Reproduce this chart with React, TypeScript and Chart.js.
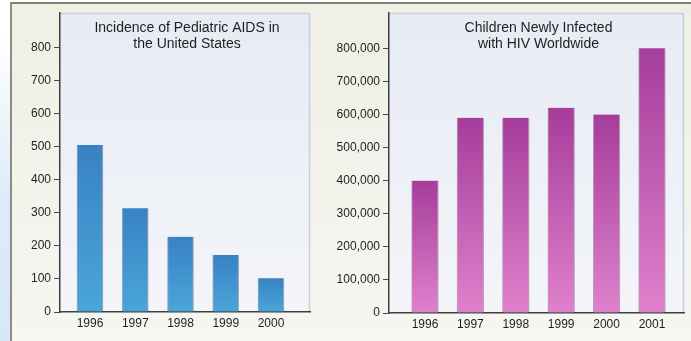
import React, { useEffect, useRef } from 'react';
import { Chart, registerables } from 'chart.js';

Chart.register(...registerables);
Chart.defaults.font.family = '"Liberation Sans", Arial, Helvetica, sans-serif';

// ---- Data: Incidence of Pediatric AIDS in the United States ----
const usYears = [1996, 1997, 1998, 1999, 2000];
const usCases = [506, 314, 228, 173, 102];
const usTicks = [0, 100, 200, 300, 400, 500, 600, 700, 800];
const usTitle = ['Incidence of Pediatric AIDS in', 'the United States'];

// ---- Data: Children Newly Infected with HIV Worldwide ----
const worldYears = [1996, 1997, 1998, 1999, 2000, 2001];
const worldInfected = [400000, 590000, 590000, 620000, 600000, 800000];
const worldTicks = [0, 100000, 200000, 300000, 400000, 500000, 600000, 700000, 800000];
const worldTitle = ['Children Newly Infected', 'with HIV Worldwide'];

type Cfg = {
  years: number[];
  values: number[];
  ticks: number[];
  title: string[];
  xMin: number;
  xMax: number;
  yMax: number;
  yWidth: number;
  xHeight: number;
  padRight: number;
  barThickness: number;
  topColor: string;
  bottomColor: string;
  edgeColor: string;
  titleDx: number;
};

const panelPlugin = {
  id: 'panel',
  beforeDraw(chart: any) {
    const { ctx, chartArea: a } = chart;
    if (!a) return;
    ctx.save();
    const g = ctx.createLinearGradient(0, a.top, 0, a.bottom);
    g.addColorStop(0, '#e7ebf3');
    g.addColorStop(1, '#f3f5f9');
    ctx.fillStyle = g;
    ctx.fillRect(a.left, a.top, a.right - a.left, a.bottom - a.top);
    ctx.strokeStyle = '#c6cde0';
    ctx.lineWidth = 1.5;
    ctx.beginPath();
    ctx.moveTo(a.left, a.top + 0.5);
    ctx.lineTo(a.right - 0.5, a.top + 0.5);
    ctx.lineTo(a.right - 0.5, a.bottom);
    ctx.stroke();
    ctx.restore();
  },
};

const titlePlugin = {
  id: 'innerTitle',
  afterDraw(chart: any, _args: any, opts: any) {
    const { ctx, chartArea: a } = chart;
    if (!a || !opts || !opts.lines) return;
    ctx.save();
    ctx.fillStyle = '#1e1e1e';
    ctx.font = '14px "Liberation Sans", Arial, Helvetica, sans-serif';
    ctx.textAlign = 'center';
    ctx.textBaseline = 'middle';
    const cx = (a.left + a.right) / 2 + (opts.dx || 0);
    (opts.lines as string[]).forEach((line, i) => {
      ctx.fillText(line, cx, 28 + i * 16.5);
    });
    ctx.restore();
  },
};

function BarPanel({ cfg, width, height }: { cfg: Cfg; width: number; height: number }) {
  const ref = useRef<HTMLCanvasElement | null>(null);
  useEffect(() => {
    if (!ref.current) return;
    const chart = new Chart(ref.current, {
      type: 'bar',
      data: {
        datasets: [
          {
            data: cfg.years.map((x, i) => ({ x, y: cfg.values[i] })),
            barThickness: cfg.barThickness,
            borderWidth: { left: 1, right: 1.2, top: 0, bottom: 0 },
            borderColor: cfg.edgeColor,
            borderSkipped: false,
            backgroundColor: (c: any) => {
              const ch = c.chart;
              const ys = ch.scales && ch.scales.y;
              if (!ch.chartArea || !ys || c.type !== 'data' || !c.parsed) return cfg.topColor;
              const top = ys.getPixelForValue(c.parsed.y);
              const base = ys.getPixelForValue(0);
              if (!isFinite(top) || !isFinite(base) || base - top < 1) return cfg.topColor;
              const g = ch.ctx.createLinearGradient(0, top, 0, base);
              g.addColorStop(0, cfg.topColor);
              g.addColorStop(1, cfg.bottomColor);
              return g;
            },
          } as any,
        ],
      },
      options: {
        responsive: false,
        devicePixelRatio: 1,
        animation: false,
        layout: { padding: { left: 0, right: cfg.padRight, top: 13, bottom: 0 } },
        plugins: {
          legend: { display: false },
          tooltip: { enabled: false },
          innerTitle: { lines: cfg.title, dx: cfg.titleDx },
        } as any,
        scales: {
          x: {
            type: 'linear',
            offset: false,
            min: cfg.xMin,
            max: cfg.xMax,
            afterFit: (s: any) => {
              s.height = cfg.xHeight;
            },
            afterBuildTicks: (s: any) => {
              s.ticks = cfg.years.map((v) => ({ value: v }));
            },
            grid: { display: false, drawTicks: false, offset: false },
            border: { display: true, color: '#3f3f3f', width: 1.5 },
            ticks: {
              color: '#1e1e1e',
              font: { size: 12 },
              padding: 4,
              maxRotation: 0,
              autoSkip: false,
              callback: (v: any) => String(v),
            },
          },
          y: {
            type: 'linear',
            min: 0,
            max: cfg.yMax,
            afterFit: (s: any) => {
              s.width = cfg.yWidth;
            },
            afterBuildTicks: (s: any) => {
              s.ticks = cfg.ticks.map((v) => ({ value: v }));
            },
            grid: {
              display: true,
              drawOnChartArea: false,
              drawTicks: true,
              tickLength: 6,
              color: '#4a4a4a',
              lineWidth: 1,
            },
            border: { display: true, color: '#3f3f3f', width: 1.5 },
            ticks: {
              color: '#1e1e1e',
              font: { size: 12 },
              padding: 3,
              autoSkip: false,
              callback: (v: any) => Number(v).toLocaleString('en-US'),
            },
          },
        },
      } as any,
      plugins: [panelPlugin, titlePlugin],
    });
    return () => chart.destroy();
  }, [cfg]);
  return <canvas ref={ref} width={width} height={height} style={{ width, height, display: 'block' }} />;
}

const usCfg: Cfg = {
  years: usYears,
  values: usCases,
  ticks: usTicks,
  title: usTitle,
  xMin: 1995.337,
  xMax: 2000.862,
  yMax: 906,
  yWidth: 60,
  xHeight: 29,
  padRight: 35,
  barThickness: 26,
  topColor: '#3981c4',
  bottomColor: '#4aa6d9',
  edgeColor: 'rgba(30,75,125,0.45)',
  titleDx: 2,
};

const worldCfg: Cfg = {
  years: worldYears,
  values: worldInfected,
  ticks: worldTicks,
  title: worldTitle,
  xMin: 1995.207,
  xMax: 2001.705,
  yMax: 906700,
  yWidth: 69,
  xHeight: 28,
  padRight: 7,
  barThickness: 26.7,
  topColor: '#a53d9b',
  bottomColor: '#df81cc',
  edgeColor: 'rgba(110,30,100,0.4)',
  titleDx: 2,
};

export default function App() {
  return (
    <div
      style={{
        position: 'fixed',
        left: 0,
        top: 0,
        width: 691,
        height: 341,
        overflow: 'hidden',
        background: 'linear-gradient(#f0efe4, #f6f6f2)',
      }}
    >
      {/* outer frame decoration */}
      <div style={{ position: 'absolute', left: 0, top: 0, width: 691, height: 2, background: '#ffffff' }} />
      <div
        style={{
          position: 'absolute',
          left: 0,
          top: 0,
          width: 10,
          height: 341,
          background: 'linear-gradient(#ffffff 10%, #dcebf8 60%, #d6e8f8)',
        }}
      />
      <div style={{ position: 'absolute', left: 10, top: 2, width: 681, height: 1.5, background: '#808078' }} />
      <div style={{ position: 'absolute', left: 10, top: 2, width: 1.5, height: 339, background: '#8c8c86' }} />
      <div style={{ position: 'absolute', left: 0, top: 0 }}>
        <BarPanel cfg={usCfg} width={345} height={341} />
      </div>
      <div style={{ position: 'absolute', left: 320, top: 0 }}>
        <BarPanel cfg={worldCfg} width={371} height={341} />
      </div>
    </div>
  );
}
